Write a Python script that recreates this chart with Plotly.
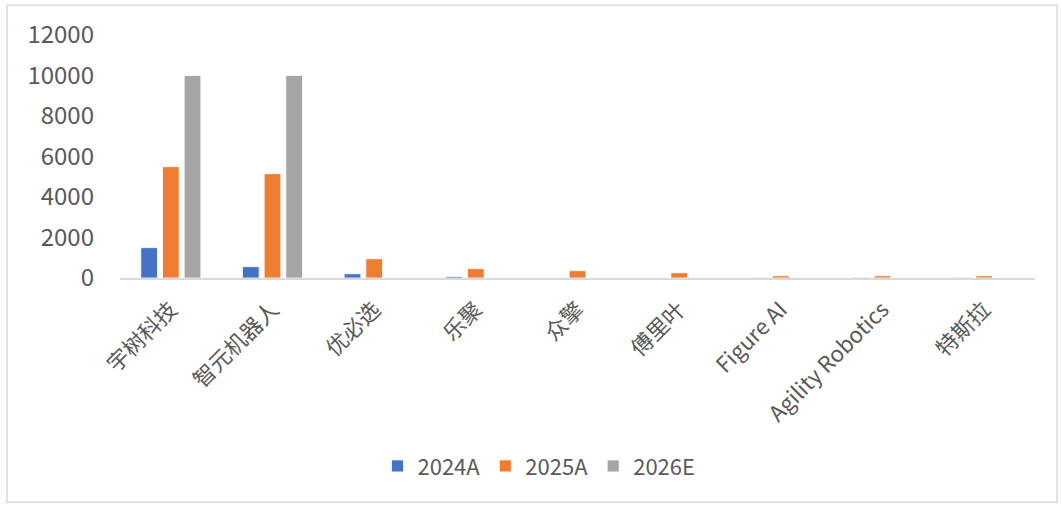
import plotly.graph_objects as go

categories = ["宇树科技", "智元机器人", "优必选", "乐聚", "众擎", "傅里叶", "Figure AI", "Agility Robotics", "特斯拉"]
series_names = ["2024A", "2025A", "2026E"]
v2024 = [1500, 560, 210, 70, 0, 0, 30, 30, 30]
v2025 = [5500, 5150, 950, 460, 360, 260, 110, 110, 110]
v2026 = [10000, 10000, None, None, None, None, None, None, None]
colors = ["#4472C4", "#ED7D31", "#A5A5A5"]
y_ticks = [0, 2000, 4000, 6000, 8000, 10000, 12000]

FONT = "Noto Sans CJK SC, Segoe UI, sans-serif"
TXT = "#595959"

fig = go.Figure()
for name, vals, c in zip(series_names, [v2024, v2025, v2026], colors):
    fig.add_trace(go.Bar(
        x=categories, y=vals, name=name,
        marker=dict(color=c, line=dict(color="white", width=0.8)),
    ))

fig.update_layout(
    width=1061, height=505,
    margin=dict(l=120, r=26, t=35, b=227, autoexpand=False),
    paper_bgcolor="white", plot_bgcolor="white",
    barmode="group", bargap=0.36, bargroupgap=0.23,
    font=dict(family=FONT, color=TXT, size=20),
    showlegend=True,
    legend=dict(
        orientation="h", xref="container", yref="container",
        x=0.508, xanchor="center", y=0.077, yanchor="middle",
        font=dict(size=22, color=TXT, family=FONT),
        itemwidth=30, traceorder="normal", itemclick=False,
    ),
    shapes=[dict(type="rect", xref="paper", yref="paper",
                 x0=-113/915, x1=1057/915 - 120/915, y0=-(503-278.3)/243.4, y1=(278.3-5)/243.4,
                 line=dict(color="#D9D9D9", width=1.5), fillcolor="rgba(0,0,0,0)", layer="below")],
)

fig.update_xaxes(
    tickangle=-45, showline=True, linecolor="#D9D9D9", linewidth=2,
    showgrid=False, ticks="", tickfont=dict(size=22, color=TXT, family=FONT),
    ticklabelstandoff=8,
)
fig.update_yaxes(
    range=[0, 12000], tickvals=y_ticks, ticktext=[str(v) for v in y_ticks],
    showgrid=False, zeroline=False, showline=False, ticks="",
    tickfont=dict(size=24, color=TXT, family=FONT), ticklabelstandoff=25,
)

fig.write_html("out.html")
